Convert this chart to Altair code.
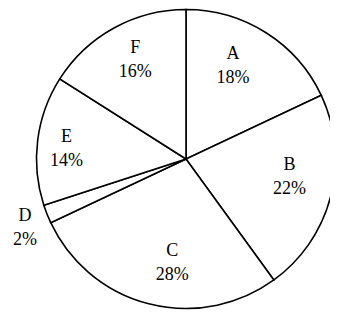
import math
import altair as alt
import pandas as pd

categories = ["A", "B", "C", "D", "E", "F"]
percents = [18, 22, 28, 2, 14, 16]
pct_labels = ["18%", "22%", "28%", "2%", "14%", "16%"]

# label placement (styling): angular nudge in percent of circle, radius in px
label_shift = [-1.6, -1.4, -1.9, -0.4, -0.5, 0.5]
label_radius = [105, 105, 104, 175, 120, 112]

df = pd.DataFrame({
    "idx": list(range(len(categories))),
    "cat": categories,
    "value": percents,
    "label": [[c, p] for c, p in zip(categories, pct_labels)],
    "shift": label_shift,
    "lr": label_radius,
})

CX, CY, R = 178, 151, 149.5

pie = alt.Chart(df).mark_arc(
    outerRadius=R, fill="white", stroke="black", strokeWidth=1.6
).encode(
    theta=alt.Theta("value:Q", stack=True),
    order=alt.Order("idx:Q"),
    x=alt.value(CX),
    y=alt.value(CY),
)

labels = alt.Chart(df).transform_window(
    cum="sum(value)", sort=[alt.SortField("idx")]
).transform_joinaggregate(
    total="sum(value)"
).transform_calculate(
    mid="(datum.cum - datum.value / 2 + datum.shift) / datum.total"
).mark_text(
    font="Liberation Serif", fontSize=18, lineHeight=24, dy=-11,
    align="center", baseline="middle", color="black"
).encode(
    theta=alt.Theta("mid:Q", stack=None,
                    scale=alt.Scale(domain=[0, 1], range=[0, 2 * math.pi])),
    radius=alt.Radius("lr:Q", scale=None),
    text="label",
    x=alt.value(CX),
    y=alt.value(CY),
)

chart = alt.layer(pie, labels).resolve_scale(
    theta="independent", radius="independent"
).properties(
    width=322, height=302,
    autosize=alt.AutoSizeParams(type="none"),
    padding=0,
    background="white",
).configure_view(stroke=None)

chart.save("out.html", embed_options={"renderer": "svg", "actions": False})
